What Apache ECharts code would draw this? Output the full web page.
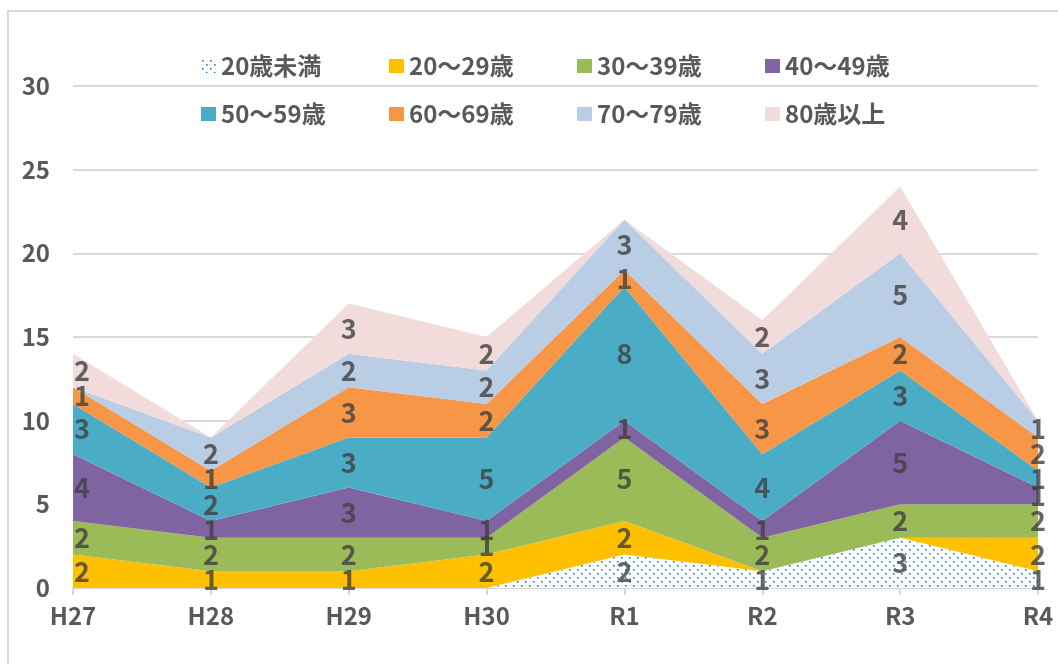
<!DOCTYPE html>
<html>
<head>
<meta charset="utf-8">
<script src="https://cdn.jsdelivr.net/npm/echarts@6/dist/echarts.min.js"></script>
<style>
html,body{margin:0;padding:0;background:#fff;}
#chart{width:1058px;height:664px;}
</style>
</head>
<body>
<div id="chart"></div>
<script>
const categories = ['H27','H28','H29','H30','R1','R2','R3','R4'];
const seriesNames = ['20歳未満','20～29歳','30～39歳','40～49歳','50～59歳','60～69歳','70～79歳','80歳以上'];
const under20   = [0,0,0,0,2,1,3,1];
const age20s    = [2,1,1,2,2,0,0,2];
const age30s    = [2,2,2,1,5,2,2,2];
const age40s    = [4,1,3,1,1,1,5,1];
const age50s    = [3,2,3,5,8,4,3,1];
const age60s    = [1,1,3,2,1,3,2,2];
const age70s    = [0,2,2,2,3,3,5,1];
const age80plus = [2,0,3,2,0,2,4,0];
const yTicks = [0,5,10,15,20,25,30];

const allValues = [under20, age20s, age30s, age40s, age50s, age60s, age70s, age80plus];

function makeDots(){
  const c = document.createElement('canvas');
  c.width = 8; c.height = 8;
  const g = c.getContext('2d');
  g.fillStyle = '#ffffff'; g.fillRect(0,0,8,8);
  [[1,1],[5,5]].forEach(([x,y]) => {
    g.fillStyle = '#8ebfe6';
    g.fillRect(x,y,2,2);
    g.fillStyle = '#0a6fc8';
    g.fillRect(x,y,1,1);
  });
  return c;
}
const dotPattern = {image: makeDots(), repeat: 'repeat'};
const colors = [dotPattern,'#FFC000','#9BBB59','#8064A2','#4BACC6','#F79646','#B9CDE5','#F2DCDB'];

const series = [];
allValues.forEach((vals, k) => {
  series.push({
    name: seriesNames[k],
    type: 'line',
    stack: 'total',
    data: vals,
    symbol: 'none',
    lineStyle: {width: 0},
    itemStyle: {color: colors[k]},
    areaStyle: {color: colors[k], opacity: 1},
    emphasis: {disabled: true},
    z: 2
  });
});

// labels at band midpoints
const labelData = [];
allValues.forEach((vals, k) => {
  vals.forEach((v, i) => {
    if (!v) return;
    let base = 0;
    for (let j = 0; j < k; j++) base += allValues[j][i];
    const item = {value: [i, base + v / 2], label: {formatter: String(v)}};
    if (i === 0) item.label.offset = [9, 0];
    labelData.push(item);
  });
});
series.push({
  type: 'scatter',
  data: labelData,
  symbolSize: 0,
  silent: true,
  z: 5,
  label: {
    show: true,
    position: 'inside',
    fontSize: 27,
    fontFamily: '"Noto Sans CJK JP", "Noto Sans", sans-serif',
    fontWeight: 'bold',
    color: '#404040'
  }
});

const legendText = {
  fontSize: 24,
  fontWeight: 'bold',
  fontFamily: '"Noto Sans CJK JP", sans-serif',
  color: '#595959',
  width: 162,
  lineHeight: 30
};

const chart = echarts.init(document.getElementById('chart'));
chart.setOption({
  animation: false,
  backgroundColor: '#ffffff',
  graphic: [{
    type: 'rect',
    shape: {x: 8, y: 11, width: 1200, height: 900},
    style: {fill: 'none', stroke: '#d9d9d9', lineWidth: 2},
    silent: true
  }],
  legend: [{
    data: seriesNames.slice(0,4),
    top: 46, left: 196,
    icon: 'rect', itemWidth: 15, itemHeight: 14, itemGap: 6,
    textStyle: legendText,
    selectedMode: false
  },{
    data: seriesNames.slice(4),
    top: 94, left: 196,
    icon: 'rect', itemWidth: 15, itemHeight: 14, itemGap: 6,
    textStyle: legendText,
    selectedMode: false
  }],
  grid: {left: 73, right: 20, top: 86, bottom: 76},
  xAxis: {
    type: 'category',
    data: categories,
    boundaryGap: false,
    axisLine: {lineStyle: {color: '#d9d9d9', width: 2}},
    axisTick: {show: true, length: 7, lineStyle: {color: '#d9d9d9', width: 2}},
    axisLabel: {fontSize: 24, fontWeight: 'bold', color: '#595959', margin: 16,
      fontFamily: '"Noto Sans CJK JP", "Noto Sans", sans-serif'}
  },
  yAxis: {
    type: 'value',
    min: yTicks[0], max: yTicks[yTicks.length-1], interval: 5,
    axisLine: {show: false},
    axisTick: {show: false},
    splitLine: {lineStyle: {color: '#d9d9d9', width: 2}},
    axisLabel: {fontSize: 24, fontWeight: 'bold', color: '#595959', margin: 23,
      fontFamily: '"Noto Sans CJK JP", "Noto Sans", sans-serif'}
  },
  series: series
});
</script>
</body>
</html>
